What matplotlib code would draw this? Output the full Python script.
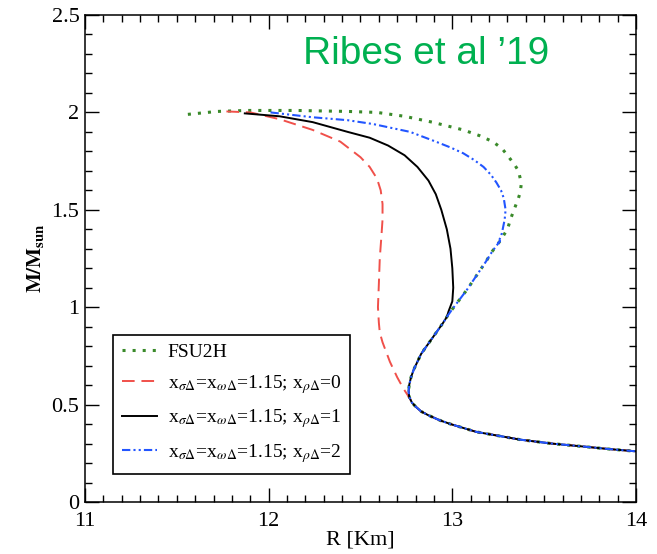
import matplotlib
matplotlib.use('Agg')
import matplotlib.pyplot as plt
from matplotlib.ticker import MultipleLocator

plt.rcParams['font.family'] = ['Liberation Serif', 'DejaVu Serif']
plt.rcParams['mathtext.fontset'] = 'stix'

# shared low-mass tail (all four models)
tail_r = [12.78, 12.80, 12.83, 12.87, 12.93, 12.99, 13.06, 13.13, 13.25, 13.37,
          13.54, 13.71, 13.85, 14.0]
tail_m = [0.51, 0.49, 0.465, 0.445, 0.42, 0.40, 0.38, 0.36, 0.34, 0.32,
          0.30, 0.285, 0.272, 0.26]

# branch shared by FSU2H and x_rho = 1, 2
branch_r = [12.97, 12.95, 12.92, 12.89, 12.86, 12.83, 12.81, 12.79, 12.775,
            12.765, 12.762, 12.765]
branch_m = [0.95, 0.92, 0.88, 0.84, 0.80, 0.76, 0.72, 0.68, 0.64,
            0.60, 0.57, 0.54]

# stretch shared by FSU2H and x_rho = 2
upper_r = [13.26, 13.22, 13.18, 13.13, 13.08, 13.04, 13.00]
upper_m = [1.34, 1.29, 1.23, 1.16, 1.09, 1.04, 0.99]

fsu_r = [11.56, 11.72, 11.88, 12.15, 12.43, 12.59, 12.74, 12.89, 13.06, 13.15,
         13.22, 13.27, 13.30, 13.34, 13.36, 13.37, 13.375, 13.37, 13.36, 13.34,
         13.32, 13.30]
fsu_m = [1.99, 2.005, 2.01, 2.01, 2.005, 2.0, 1.98, 1.95, 1.91, 1.88,
         1.85, 1.815, 1.78, 1.73, 1.70, 1.66, 1.63, 1.59, 1.56, 1.51,
         1.46, 1.40]

rho0_r = [11.77, 11.90, 12.06, 12.24, 12.39, 12.50, 12.55, 12.59, 12.61, 12.62,
          12.62, 12.615, 12.605, 12.60, 12.595, 12.60, 12.605, 12.62, 12.64, 12.66,
          12.68, 12.70, 12.735, 12.77]
rho0_m = [2.005, 2.0, 1.965, 1.91, 1.85, 1.77, 1.72, 1.66, 1.60, 1.53,
          1.45, 1.38, 1.25, 1.12, 1.0, 0.92, 0.87, 0.82, 0.77, 0.72,
          0.68, 0.64, 0.58, 0.53]

rho1_r = [11.87, 12.06, 12.24, 12.43, 12.55, 12.65, 12.74, 12.81, 12.87, 12.91,
          12.94, 12.97, 12.99, 13.00, 13.005, 13.00, 12.98]
rho1_m = [1.995, 1.98, 1.95, 1.90, 1.87, 1.83, 1.78, 1.72, 1.65, 1.58,
          1.50, 1.40, 1.30, 1.20, 1.10, 1.03, 0.98]

rho2_r = [12.01, 12.24, 12.43, 12.57, 12.77, 12.91, 12.99, 13.06, 13.12, 13.17,
          13.21, 13.24, 13.265, 13.28, 13.29, 13.285, 13.27, 13.25]
rho2_m = [2.0, 1.975, 1.96, 1.94, 1.90, 1.85, 1.82, 1.79, 1.755, 1.72,
          1.68, 1.64, 1.60, 1.56, 1.50, 1.45, 1.38, 1.33]

labels = ['FSU2H',
          r'x$_{\sigma\Delta}$=x$_{\omega\Delta}$=1.15; x$_{\rho\Delta}$=0',
          r'x$_{\sigma\Delta}$=x$_{\omega\Delta}$=1.15; x$_{\rho\Delta}$=1',
          r'x$_{\sigma\Delta}$=x$_{\omega\Delta}$=1.15; x$_{\rho\Delta}$=2']

fig = plt.figure(figsize=(6.57, 5.54), dpi=100)
ax = fig.add_axes([0.1294, 0.0939, 0.8386, 0.879])

ax.plot(fsu_r + upper_r + branch_r + tail_r, fsu_m + upper_m + branch_m + tail_m,
        color='#3a8a2a', lw=2.2, linestyle=(0, (1, 2.3)), label=labels[0])
ax.plot(rho0_r + tail_r, rho0_m + tail_m, color='#f0504a', lw=1.4,
        linestyle=(0, (6.5, 3.5)), label=labels[1])
ax.plot(rho1_r + branch_r + tail_r, rho1_m + branch_m + tail_m, color='black',
        lw=1.4, label=labels[2])
ax.plot(rho2_r + upper_r + branch_r + tail_r, rho2_m + upper_m + branch_m + tail_m,
        color='#2255ff', lw=1.5, linestyle=(0, (4, 1.5, 1, 1.5, 1, 1.5)),
        label=labels[3])

ax.set_xlim(11, 14)
ax.set_ylim(0, 2.5)
ax.xaxis.set_major_locator(MultipleLocator(1))
ax.xaxis.set_minor_locator(MultipleLocator(0.1))
ax.yaxis.set_minor_locator(MultipleLocator(0.1))
ax.set_yticks([0, 0.5, 1, 1.5, 2, 2.5])
ax.set_yticklabels(['0', '0.5', '1', '1.5', '2', '2.5'])
ax.tick_params(which='both', direction='in', top=True, right=True, labelsize=16)
ax.tick_params(which='major', length=10, width=1)
ax.tick_params(which='minor', length=5, width=1)
ax.tick_params(axis='x', pad=7)
ax.tick_params(axis='y', pad=4)
for s in ax.spines.values():
    s.set_linewidth(1.1)

ax.set_xlabel('R [Km]', fontsize=16, labelpad=0)
ax.set_ylabel(r'$\mathbf{M/M_{sun}}$', fontsize=15, labelpad=4)

leg = ax.legend(loc='lower left', bbox_to_anchor=(0.051, 0.058), fontsize=14,
                frameon=True, fancybox=False, framealpha=1, edgecolor='black',
                handlelength=1.8, handletextpad=0.55, labelspacing=0.6,
                borderpad=0.45, borderaxespad=0)
leg.get_frame().set_linewidth(1.2)

fig.text(303 / 657, 1 - 64 / 554, "Ribes et al \u201919", color='#00b050',
         fontsize=28, family='Liberation Sans', va='baseline', ha='left')

fig.savefig('out.png', dpi=100)
